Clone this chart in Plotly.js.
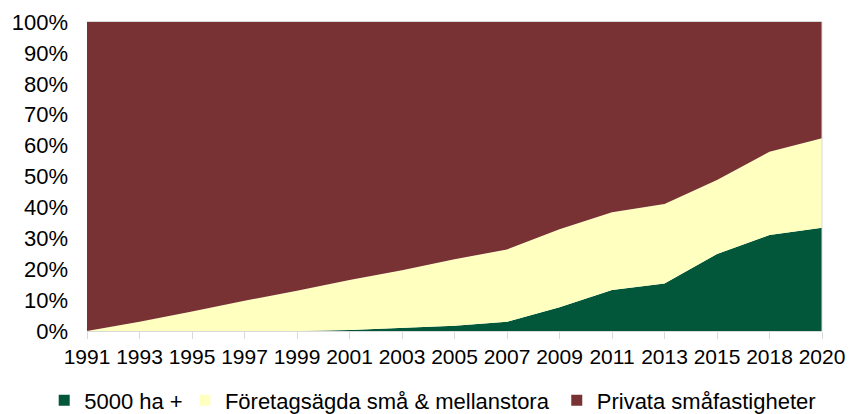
<!DOCTYPE html>
<html>
<head>
<meta charset="utf-8">
<script src="https://cdn.plot.ly/plotly-3.0.1.min.js"></script>
<style>html,body{margin:0;padding:0;background:#fff;}#chart{width:850px;height:414px;}</style>
</head>
<body>
<div id="chart"></div>
<script>
const years = ["1991","1993","1995","1997","1999","2001","2003","2005","2007","2009","2011","2013","2015","2018","2020"];
const storSkog = [0, 0, 0, 0, 0, 0.3, 1.0, 1.7, 3.0, 7.7, 13.3, 15.4, 24.9, 31.1, 33.4];
const foretag = [0, 3.0, 6.3, 9.8, 13.0, 16.2, 18.7, 21.5, 23.4, 25.2, 25.1, 25.7, 24.0, 26.9, 29.0];
const privata = [100, 97.0, 93.7, 90.2, 87.0, 83.5, 80.3, 76.8, 73.6, 67.1, 61.6, 58.9, 51.1, 42.0, 37.6];
const names = ["5000 ha +", "Företagsägda små & mellanstora", "Privata småfastigheter"];
const colors = ["#02573B", "#FFFFC0", "#783234"];
const series = [storSkog, foretag, privata];

const fam = '"Liberation Sans", Arial, sans-serif';
const font = {family: fam, size: 22, color: '#000'};
const xfont = {family: fam, size: 21, color: '#000'};
const legendIds = ['legend', 'legend2', 'legend3'];
const legendX = [0.052, 0.2175, 0.655];

const traces = [];
series.forEach((vals, i) => {
  traces.push({
    type: 'scatter', mode: 'lines', x: years, y: vals,
    stackgroup: 'one', fillcolor: colors[i], line: {width: 0, color: colors[i]},
    name: names[i], showlegend: false, hoverinfo: 'x+y+name'
  });
});
series.forEach((vals, i) => {
  traces.push({
    type: 'scatter', mode: 'markers', x: [null], y: [null],
    marker: {symbol: 'square', size: 11, color: colors[i]},
    name: names[i], showlegend: true, legend: legendIds[i]
  });
});

const layout = {
  width: 850, height: 414,
  margin: {l: 87, r: 28, t: 22, b: 83},
  paper_bgcolor: '#fff', plot_bgcolor: '#fff',
  font: font,
  showlegend: true,
  xaxis: {type: 'category', range: [0, 14], showgrid: false, zeroline: false,
          showline: true, linecolor: '#d9d9d9', linewidth: 1, mirror: true,
          ticks: 'outside', ticklen: 7, tickcolor: '#d9d9d9', tickfont: xfont},
  yaxis: {range: [0, 100], dtick: 10, ticksuffix: '%', showgrid: false, zeroline: false,
          showline: false, ticks: '', ticklabelstandoff: 18, tickfont: font},
  shapes: [{type: 'line', xref: 'paper', yref: 'paper', x0: 1, x1: 1, y0: 0, y1: 1,
            line: {color: '#d9d9d9', width: 1}}]
};
legendIds.forEach((id, i) => {
  layout[id] = {orientation: 'h', xref: 'container', yref: 'container', x: legendX[i], xanchor: 'left',
                y: 0.033, yanchor: 'middle', font: font, itemwidth: 30, bgcolor: 'rgba(0,0,0,0)'};
});

Plotly.newPlot('chart', traces, layout, {displayModeBar: false, staticPlot: true});
</script>
</body>
</html>
